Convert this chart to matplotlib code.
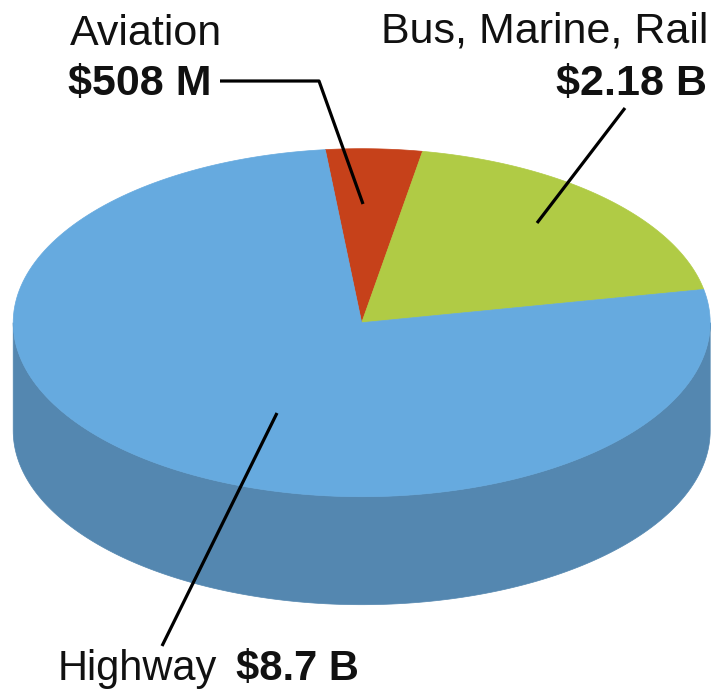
import numpy as np
import matplotlib
matplotlib.use("Agg")
import matplotlib.pyplot as plt
from matplotlib.patches import Polygon

# ---- data ----
categories = ["Aviation", "Bus, Marine, Rail", "Highway"]
values = [0.508, 2.18, 8.7]          # billions of dollars
value_labels = ["$508 M", "$2.18 B", "$8.7 B"]
top_colors = ["#C6411A", "#B0CB45", "#66AADF"]
side_colors = ["#9E3415", "#8CA237", "#5487B0"]

# ---- layout (pixel coordinates) ----
W, H = 728, 692
cx, cy = 361.7, 322.7
rx, ry = 348.5, 174.0
depth = 108.0
start_angle = 96.0

plt.rcParams['font.family'] = ['Liberation Sans', 'DejaVu Sans']
fig = plt.figure(figsize=(W / 100, H / 100), dpi=100)
ax = fig.add_axes([0, 0, 1, 1])
ax.set_xlim(0, W)
ax.set_ylim(H, 0)
ax.axis('off')

vals = np.array(values, dtype=float)
fracs = vals / vals.sum()
bounds = start_angle - np.concatenate([[0], np.cumsum(fracs)]) * 360.0


def arc(t1, t2, dy=0.0, n=200):
    t = np.radians(np.linspace(t1, t2, n))
    return np.column_stack([cx + rx * np.cos(t), cy + dy - ry * np.sin(t)])


# side walls (front half: angles between -180 and 0)
for i in range(len(vals)):
    hi, lo = bounds[i], bounds[i + 1]
    for k in (-2, -1, 0, 1):
        a_hi, a_lo = hi + 360 * k, lo + 360 * k
        s_hi, s_lo = min(a_hi, 0.0), max(a_lo, -180.0)
        if s_hi > s_lo:
            top = arc(s_hi, s_lo)
            bot = arc(s_lo, s_hi, dy=depth)
            ax.add_patch(Polygon(np.vstack([top, bot]), closed=True,
                                 facecolor=side_colors[i], edgecolor=side_colors[i],
                                 linewidth=0.5, zorder=1))

# top face
for i in range(len(vals)):
    pts = np.vstack([[cx, cy], arc(bounds[i], bounds[i + 1])])
    ax.add_patch(Polygon(pts, closed=True, facecolor=top_colors[i],
                         edgecolor=top_colors[i], linewidth=0.5, zorder=2))

# ---- labels ----
fs_top = 31
fs_bot = 30
lw = 2.3
txt = '#111111'
# Aviation
ax.text(70, 45, categories[0], fontsize=fs_top, ha='left', va='baseline', color=txt, zorder=5)
ax.text(68, 95, value_labels[0], fontsize=fs_top, fontweight='bold', ha='left', va='baseline',
        color=txt, zorder=5)
ax.plot([220, 319, 363], [81, 81, 204], color='black', lw=lw, zorder=4, solid_capstyle='butt')

# Bus, Marine, Rail
ax.text(708, 43, categories[1], fontsize=fs_top, ha='right', va='baseline', color=txt, zorder=5)
ax.text(707, 95, value_labels[1], fontsize=fs_top, fontweight='bold', ha='right', va='baseline',
        color=txt, zorder=5)
ax.plot([625, 537], [108, 223], color='black', lw=lw, zorder=4, solid_capstyle='butt')

# Highway
ax.text(58, 680, categories[2], fontsize=fs_bot, ha='left', va='baseline', color=txt, zorder=5)
ax.text(236, 680, value_labels[2], fontsize=fs_bot, fontweight='bold', ha='left', va='baseline',
        color=txt, zorder=5)
ax.plot([162, 277], [646, 413], color='black', lw=lw, zorder=4, solid_capstyle='butt')

fig.savefig("out.png", dpi=100)
